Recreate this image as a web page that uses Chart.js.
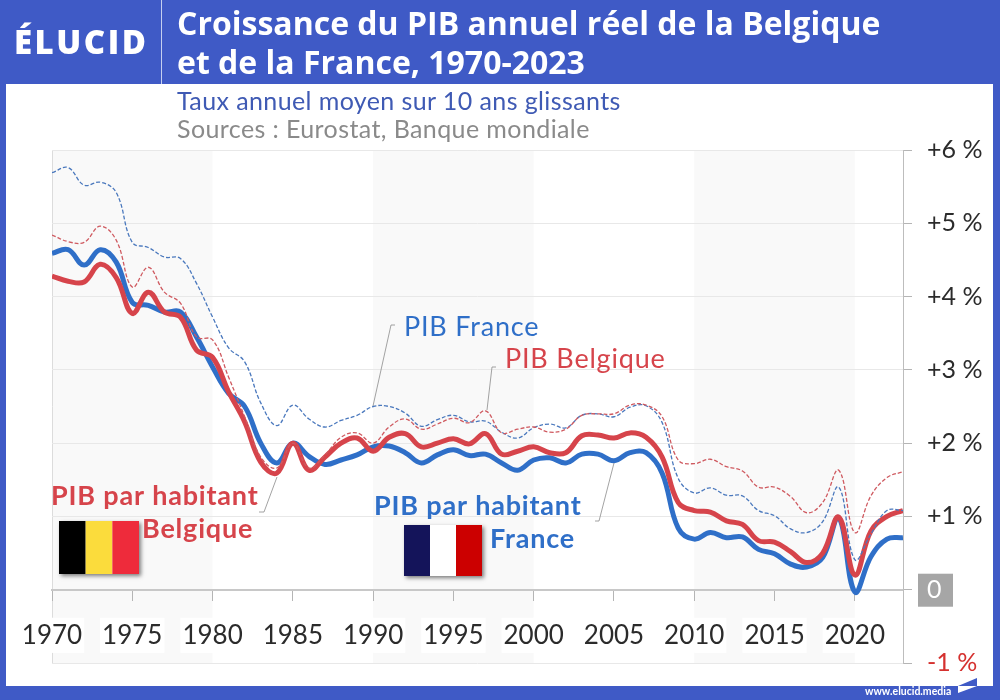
<!DOCTYPE html>
<html lang="fr">
<head>
<meta charset="utf-8">
<title>Croissance du PIB annuel réel de la Belgique et de la France, 1970-2023</title>
<script src="https://cdn.jsdelivr.net/npm/chart.js@4/dist/chart.umd.min.js"></script>
<style>
    html, body { margin: 0; padding: 0; width: 1000px; height: 700px; overflow: hidden; background: #3f5ac6; }
    body { position: relative; font-family: Lato, sans-serif; }
    #frame { position: absolute; left: 6px; top: 84px; width: 987px; height: 602px; background: #fff; }
    #divider { position: absolute; left: 161px; top: 0; width: 1px; height: 84px; background: #c5cff0; }
    canvas { position: absolute; left: 0; top: 0; }
    .txt { position: absolute; white-space: nowrap; }
    #logo { left: 14px; top: 19px; color: #fff; font-family: "Open Sans", sans-serif; font-size: 33px; font-weight: 800; letter-spacing: 2.5px; }
    #title1, #title2 { left: 177px; color: #fff; font-family: "Open Sans", sans-serif; font-size: 32px; font-weight: 700; }
    #title1 { top: 1px; }
    #title2 { top: 40px; }
    #subtitle { left: 177px; top: 85px; color: #3f5ab4; font-size: 25px; letter-spacing: 0.4px; }
    #sources { left: 177px; top: 113px; color: #8a8a8a; font-size: 25px; letter-spacing: 0.4px; }
    #site { left: 865px; top: 685px; color: #fff; font-size: 10.5px; font-weight: 700; }
</style>
</head>
<body>
<div id="frame"></div>
<div id="divider"></div>
<canvas id="chart" width="1000" height="700"></canvas>
<div class="txt" id="logo">ÉLUCID</div>
<div class="txt" id="title1">Croissance du PIB annuel réel de la Belgique</div>
<div class="txt" id="title2">et de la France, 1970-2023</div>
<div class="txt" id="subtitle">Taux annuel moyen sur 10 ans glissants</div>
<div class="txt" id="sources">Sources : Eurostat, Banque mondiale</div>
<div class="txt" id="site">www.elucid.media</div>

<script>
const years = [
    1970, 1971, 1972, 1973, 1974, 1975, 1976, 1977, 1978, 1979,
    1980, 1981, 1982, 1983, 1984, 1985, 1986, 1987, 1988, 1989,
    1990, 1991, 1992, 1993, 1994, 1995, 1996, 1997, 1998, 1999,
    2000, 2001, 2002, 2003, 2004, 2005, 2006, 2007, 2008, 2009,
    2010, 2011, 2012, 2013, 2014, 2015, 2016, 2017, 2018, 2019,
    2020, 2021, 2022, 2023
];

const pibFrance = [
    5.69, 5.76, 5.52, 5.56, 5.42, 4.74, 4.67, 4.54, 4.52, 4.18,
    3.72, 3.30, 3.11, 2.55, 2.24, 2.52, 2.33, 2.22, 2.31, 2.38,
    2.50, 2.50, 2.41, 2.23, 2.32, 2.38, 2.29, 2.30, 2.15, 2.07,
    2.21, 2.26, 2.21, 2.38, 2.40, 2.36, 2.49, 2.51, 2.28, 1.52,
    1.32, 1.39, 1.29, 1.28, 1.08, 1.01, 0.83, 0.78, 0.93, 1.40,
    0.41, 0.76, 1.08, 1.08
];

const pibBelgique = [
    4.84, 4.75, 4.74, 4.96, 4.77, 4.13, 4.40, 4.06, 3.91, 3.45,
    3.41, 2.90, 2.36, 1.81, 1.66, 2.00, 1.66, 1.84, 2.08, 2.14,
    2.00, 2.22, 2.33, 2.19, 2.26, 2.34, 2.28, 2.44, 2.14, 2.19,
    2.22, 2.15, 2.19, 2.38, 2.40, 2.40, 2.52, 2.52, 2.36, 1.77,
    1.72, 1.78, 1.68, 1.62, 1.40, 1.40, 1.27, 1.05, 1.19, 1.63,
    0.78, 1.28, 1.53, 1.61
];

const habFrance = [
    4.59, 4.64, 4.43, 4.64, 4.47, 3.92, 3.88, 3.79, 3.79, 3.45,
    3.04, 2.68, 2.50, 2.00, 1.73, 2.00, 1.82, 1.71, 1.77, 1.84,
    1.95, 1.96, 1.87, 1.73, 1.84, 1.91, 1.83, 1.85, 1.73, 1.63,
    1.77, 1.80, 1.73, 1.85, 1.85, 1.76, 1.87, 1.87, 1.59, 0.84,
    0.69, 0.78, 0.71, 0.72, 0.55, 0.49, 0.35, 0.31, 0.44, 0.98,
    -0.03, 0.45, 0.69, 0.71
];

const habBelgique = [
    4.28, 4.21, 4.20, 4.44, 4.26, 3.77, 4.06, 3.79, 3.72, 3.27,
    3.17, 2.70, 2.29, 1.74, 1.59, 2.00, 1.63, 1.81, 2.00, 2.07,
    1.89, 2.08, 2.13, 1.95, 2.00, 2.06, 1.99, 2.13, 1.85, 1.89,
    1.95, 1.87, 1.87, 2.10, 2.11, 2.07, 2.14, 2.08, 1.81, 1.19,
    1.08, 1.06, 0.94, 0.89, 0.67, 0.65, 0.52, 0.37, 0.50, 0.99,
    0.20, 0.80, 1.00, 1.08
];

const yTickLabels = ['-1 %', '0', '+1 %', '+2 %', '+3 %', '+4 %', '+5 %', '+6 %'];
const grayBands = [[1970, 1980], [1990, 2000], [2010, 2020]];

const BLUE = '#2f6fc8';
const RED = '#d6444b';
const BLUE_DASH = '#4a78bd';
const RED_DASH = '#cf5a60';

const points = (vals) => vals.map((v, i) => ({ x: years[i], y: v }));

const line = (vals, color, width, dash) => ({
    data: points(vals),
    borderColor: color,
    borderWidth: width,
    borderDash: dash,
    pointRadius: 0,
    tension: 0.4,
    fill: false
});

// bands, zero box and left edge go under the scales
const backdropPlugin = {
    id: 'backdrop',
    beforeDraw(chart) {
        const { ctx, chartArea: a, scales: { x, y } } = chart;
        ctx.save();
        ctx.fillStyle = '#f9f9f9';
        grayBands.forEach(([from, to]) => {
            const x0 = x.getPixelForValue(from);
            ctx.fillRect(x0, a.top, x.getPixelForValue(to) - x0, a.bottom - a.top);
        });
        ctx.strokeStyle = '#dcdcdc';
        ctx.lineWidth = 1;
        ctx.beginPath();
        ctx.moveTo(a.left + 0.5, a.top);
        ctx.lineTo(a.left + 0.5, a.bottom);
        ctx.stroke();
        ctx.fillStyle = '#a6a6a6';
        ctx.fillRect(a.right + 15, y.getPixelForValue(0) - 16, 35, 33);
        ctx.restore();
    }
};

const leaders = [
    [[373, 406], [391, 325], [395, 325]],
    [[487, 410], [492, 367], [496, 367]],
    [[614, 463], [599, 521], [595, 521]],
    [[277, 477], [264, 512], [259, 512]]
];

const labels = [
    { text: 'PIB France', x: 404, y: 336, color: BLUE, weight: 400 },
    { text: 'PIB Belgique', x: 505, y: 368, color: RED, weight: 400 },
    { text: 'PIB par habitant', x: 374, y: 515, color: BLUE, weight: 700 },
    { text: 'France', x: 490, y: 548, color: BLUE, weight: 700 },
    { text: 'PIB par habitant', x: 51, y: 505, color: RED, weight: 700 },
    { text: 'Belgique', x: 142, y: 538, color: RED, weight: 700 }
];

const flags = [
    { x: 59, y: 521, w: 80, h: 53, stripes: ['#000000', '#fbdc3c', '#ee2b3b'] },
    { x: 404, y: 525, w: 78, h: 51, stripes: ['#14145a', '#ffffff', '#cc0000'] }
];

const annotationPlugin = {
    id: 'annotations',
    afterDraw(chart) {
        const { ctx } = chart;
        ctx.save();

        ctx.strokeStyle = '#8c8c8c';
        ctx.lineWidth = 0.8;
        leaders.forEach((path) => {
            ctx.beginPath();
            path.forEach(([px, py], i) => (i ? ctx.lineTo(px, py) : ctx.moveTo(px, py)));
            ctx.stroke();
        });

        flags.forEach((f) => {
            ctx.save();
            ctx.shadowColor = 'rgba(0,0,0,0.5)';
            ctx.shadowBlur = 4;
            ctx.shadowOffsetX = 2;
            ctx.shadowOffsetY = 2;
            ctx.fillStyle = '#fff';
            ctx.fillRect(f.x, f.y, f.w, f.h);
            ctx.restore();
            f.stripes.forEach((c, i) => {
                ctx.fillStyle = c;
                ctx.fillRect(f.x + i * f.w / 3, f.y, f.w / 3, f.h);
            });
        });

        ctx.textAlign = 'left';
        ctx.textBaseline = 'alphabetic';
        ctx.letterSpacing = '0.8px';
        labels.forEach((l) => {
            ctx.font = `${l.weight} 27px Lato, sans-serif`;
            ctx.fillStyle = l.color;
            ctx.fillText(l.text, l.x, l.y);
        });
        ctx.letterSpacing = '0px';

        // little flag of the footer
        ctx.fillStyle = '#3f5ac6';
        ctx.beginPath();
        ctx.moveTo(958, 686);
        ctx.lineTo(977, 678);
        ctx.lineTo(977, 686);
        ctx.fill();
        ctx.fillStyle = '#fff';
        ctx.beginPath();
        ctx.moveTo(958, 686);
        ctx.lineTo(977, 686);
        ctx.lineTo(958, 693);
        ctx.fill();

        ctx.restore();
    }
};

new Chart(document.getElementById('chart'), {
    type: 'line',
    data: {
        datasets: [
            line(pibBelgique, RED_DASH, 1.3, [4, 2]),
            line(pibFrance, BLUE_DASH, 1.3, [4, 2]),
            line(habBelgique, RED, 5, []),
            line(habFrance, BLUE, 5, [])
        ]
    },
    plugins: [backdropPlugin, annotationPlugin],
    options: {
        responsive: false,
        animation: false,
        devicePixelRatio: 1,
        layout: { padding: { left: 52, right: 0, top: 150, bottom: 37 } },
        plugins: { legend: { display: false }, tooltip: { enabled: false } },
        scales: {
            x: {
                type: 'linear',
                position: { y: 0 },
                min: 1970,
                max: 2023,
                grid: { drawOnChartArea: false, drawTicks: true, tickLength: 10, color: '#b5b5b5' },
                border: { color: '#c8c8c8', width: 2 },
                ticks: {
                    stepSize: 5,
                    includeBounds: false,
                    autoSkip: false,
                    maxRotation: 0,
                    padding: 20,
                    color: '#2b2b2b',
                    font: { family: 'Lato, sans-serif', size: 26 },
                    showLabelBackdrop: true,
                    backdropColor: '#ffffff',
                    backdropPadding: 2,
                    callback: (v) => String(v)
                }
            },
            y: {
                position: 'right',
                min: -1,
                max: 6,
                afterFit: (scale) => { scale.width = 97; },
                grid: { color: '#e8e8e8', tickLength: 9, tickColor: '#b5b5b5' },
                border: { color: '#bdbdbd' },
                ticks: {
                    stepSize: 1,
                    padding: 15,
                    font: { family: 'Lato, sans-serif', size: 25 },
                    color: (c) => (c.tick.value === -1 ? '#d5312f' : c.tick.value === 0 ? '#ffffff' : '#2b2b2b'),
                    callback: (v) => yTickLabels[v + 1]
                }
            }
        }
    }
});
</script>
</body>
</html>
